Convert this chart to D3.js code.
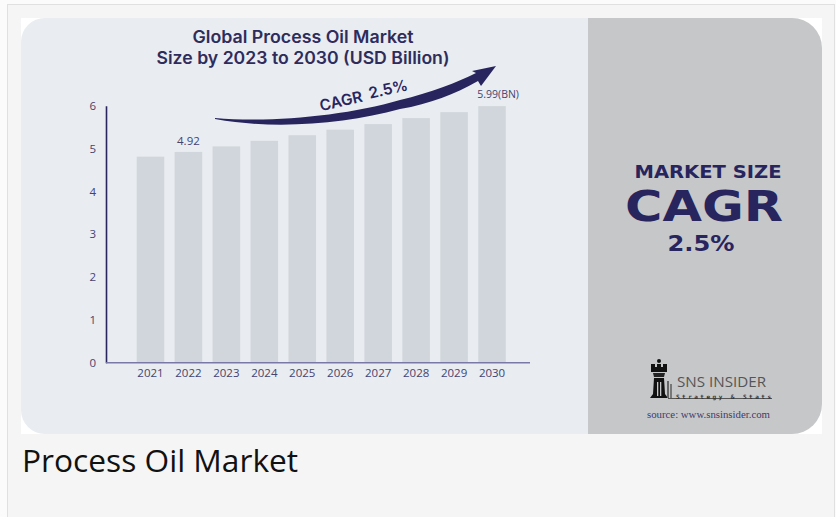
<!DOCTYPE html>
<html>
<head>
<meta charset="utf-8">
<script src="https://cdn.jsdelivr.net/npm/d3@7"></script>
<style>
  body { margin: 0; background: #fff; }
  svg { display: block; }
</style>
</head>
<body>
<svg width="836" height="517"></svg>
<script>
// chart data
const years = ["2021", "2022", "2023", "2024", "2025", "2026", "2027", "2028", "2029", "2030"];
const values = [4.81, 4.92, 5.05, 5.18, 5.31, 5.44, 5.57, 5.71, 5.85, 5.99];
const yTicks = [0, 1, 2, 3, 4, 5, 6];
const valueLabels = { "2022": "4.92", "2030": "5.99(BN)" };
const titleLines = ["Global Process Oil Market", "Size by 2023 to 2030 (USD Billion)"];
const titleWidths = [221, 293];
const cagrText = "2.5%";

const navy = "#27245e";
const tickColor = "#45436f";

const svg = d3.select("svg");

// page frame
svg.append("rect").attr("x", 0).attr("y", 0).attr("width", 836).attr("height", 517).attr("fill", "#fbfbfb");
svg.append("rect")
  .attr("x", 7.5).attr("y", 4.5).attr("width", 827).attr("height", 530)
  .attr("fill", "#f5f5f5").attr("stroke", "#e0e0e0");

// image card
const L = 21, R = 822, T = 18, B = 434, split = 588;
svg.append("rect").attr("x", L).attr("y", T).attr("width", R - L).attr("height", B - T).attr("fill", "#fff");

function leftPanel(r) {
  const p = d3.path();
  p.moveTo(L + r, T);
  p.lineTo(split, T);
  p.lineTo(split, B);
  p.lineTo(L + r, B);
  p.arcTo(L, B, L, B - r, r);
  p.lineTo(L, T + r);
  p.arcTo(L, T, L + r, T, r);
  p.closePath();
  return p.toString();
}
function rightPanel(r) {
  const p = d3.path();
  p.moveTo(split, T);
  p.lineTo(R - r, T);
  p.arcTo(R, T, R, T + r, r);
  p.lineTo(R, B - r);
  p.arcTo(R, B, R - r, B, r);
  p.lineTo(split, B);
  p.closePath();
  return p.toString();
}
svg.append("path").attr("d", leftPanel(24)).attr("fill", "#e9ecf0");
svg.append("path").attr("d", rightPanel(30)).attr("fill", "#c6c7c9");

// scales
const x = d3.scaleBand().domain(years).range([136.7, 505.8]).paddingInner(0.275).paddingOuter(0);
const y = d3.scaleLinear().domain([0, 6]).range([362.7, 105.7]);

// bars
svg.append("g").selectAll("rect")
  .data(years)
  .join("rect")
  .attr("x", d => x(d))
  .attr("y", (d, i) => y(values[i]))
  .attr("width", x.bandwidth())
  .attr("height", (d, i) => y(0) - y(values[i]))
  .attr("fill", "#d0d6dc");

// axes
const yAxis = svg.append("g").attr("transform", "translate(106,0)")
  .call(d3.axisLeft(y).tickValues(yTicks).tickFormat(d3.format("d")).tickSize(0).tickPadding(10));
yAxis.select(".domain").attr("stroke", navy).attr("stroke-width", 1.6);
yAxis.selectAll("text").attr("fill", tickColor).attr("font-family", "Open Sans").attr("font-size", 11.5);

const xAxis = svg.append("g").attr("transform", `translate(0,${y(0)})`)
  .call(d3.axisBottom(x).tickSize(0).tickPadding(6));
xAxis.select(".domain").attr("d", `M106,0H530`).attr("stroke", "#7a78a6").attr("stroke-width", 1.6);
xAxis.selectAll("text").attr("fill", tickColor).attr("font-family", "Open Sans").attr("font-size", 11.5);

// value labels
svg.append("text")
  .attr("x", x("2022") + x.bandwidth() / 2).attr("y", y(values[1]) - 7)
  .attr("text-anchor", "middle").attr("font-family", "Open Sans").attr("font-size", 11.5)
  .attr("fill", tickColor).text(valueLabels["2022"]);
svg.append("text")
  .attr("x", x("2030") - 1).attr("y", y(values[9]) - 8)
  .attr("font-family", "Open Sans").attr("font-size", 10.5)
  .attr("fill", tickColor).text(valueLabels["2030"]);

// title
svg.append("g").selectAll("text")
  .data(titleLines)
  .join("text")
  .attr("x", 303).attr("y", (d, i) => 43 + i * 20.5)
  .attr("text-anchor", "middle")
  .attr("font-family", "Inter").attr("font-weight", 600).attr("font-size", 17)
  .attr("textLength", (d, i) => titleWidths[i]).attr("lengthAdjust", "spacingAndGlyphs")
  .attr("fill", "#2e2c5c")
  .text(d => d);

// CAGR swoosh
const swoosh = "M215,118 C270,123 345,116 400,100 C430,93 458,82 476,73 L472,71 L496,66 L481,86 L478,81 " +
  "C455,94 430,104 400,109 C345,124 275,130 215,119 Z";
svg.append("path").attr("d", swoosh).attr("fill", navy);

const cg = svg.append("text")
  .attr("transform", "translate(365,101) rotate(-13)")
  .attr("text-anchor", "middle")
  .attr("font-family", "Inter").attr("font-weight", 600).attr("font-size", 15.5)
  .attr("fill", navy);
cg.append("tspan").text("CAGR");
cg.append("tspan").attr("dx", 7).attr("dy", -1).text(cagrText);

// right panel text
const cx = 705;
svg.append("text").attr("x", cx + 3).attr("y", 178)
  .attr("text-anchor", "middle").attr("font-family", "DejaVu Sans").attr("font-weight", 700)
  .attr("font-size", 17).attr("textLength", 147).attr("lengthAdjust", "spacingAndGlyphs")
  .attr("fill", navy).text("MARKET SIZE");
svg.append("text").attr("x", cx - 1).attr("y", 221)
  .attr("text-anchor", "middle").attr("font-family", "DejaVu Sans").attr("font-weight", 700)
  .attr("font-size", 43).attr("textLength", 158).attr("lengthAdjust", "spacingAndGlyphs")
  .attr("fill", navy).text("CAGR");
svg.append("text").attr("x", cx - 4).attr("y", 251)
  .attr("text-anchor", "middle").attr("font-family", "DejaVu Sans").attr("font-weight", 700)
  .attr("font-size", 22).attr("textLength", 67).attr("lengthAdjust", "spacingAndGlyphs")
  .attr("fill", navy).text(cagrText);

// logo
const logo = svg.append("g").attr("fill", "#111");
logo.append("circle").attr("cx", 659).attr("cy", 361).attr("r", 2);
logo.append("path").attr("d", "M651,364 L655,364 L655,367 L657,367 L657,364 L661,364 L661,367 L663,367 L663,364 L667,364 L667,372 L651,372 Z");
logo.append("path").attr("d", "M653,373 L665,373 L664,377 L654,377 Z").attr("fill", "#222");
logo.append("path").attr("d", "M654,378 L664,378 L665,394 L668,398 L650,398 L653,394 Z");
logo.append("rect").attr("x", 657).attr("y", 382).attr("width", 1.3).attr("height", 14).attr("fill", "#c6c7c9");
logo.append("rect").attr("x", 660).attr("y", 382).attr("width", 1.3).attr("height", 14).attr("fill", "#c6c7c9");
logo.append("rect").attr("x", 667).attr("y", 381).attr("width", 2).attr("height", 17).attr("fill", "#666");
logo.append("rect").attr("x", 670).attr("y", 384).attr("width", 2).attr("height", 14).attr("fill", "#777");
logo.append("rect").attr("x", 668).attr("y", 398).attr("width", 104).attr("height", 1).attr("fill", "#555");

svg.append("text").attr("x", 677).attr("y", 387)
  .attr("font-family", "Open Sans").attr("font-size", 15).attr("textLength", 89).attr("lengthAdjust", "spacingAndGlyphs")
  .attr("fill", "#555").text("SNS INSIDER");
svg.append("text").attr("x", 676).attr("y", 398.5)
  .attr("font-family", "DejaVu Sans Mono").attr("font-weight", 700).attr("font-size", 6).attr("textLength", 95)
  .attr("fill", "#333").text("Strategy & Stats");
svg.append("text").attr("x", 647).attr("y", 418)
  .attr("font-family", "Liberation Serif").attr("font-size", 10).attr("textLength", 123).attr("lengthAdjust", "spacingAndGlyphs")
  .attr("fill", "#3d3b6b").text("source: www.snsinsider.com");

// caption
svg.append("text").attr("x", 22).attr("y", 472)
  .attr("font-family", "Open Sans").attr("font-size", 31.7)
  .attr("fill", "#111").text("Process Oil Market");
</script>
</body>
</html>
